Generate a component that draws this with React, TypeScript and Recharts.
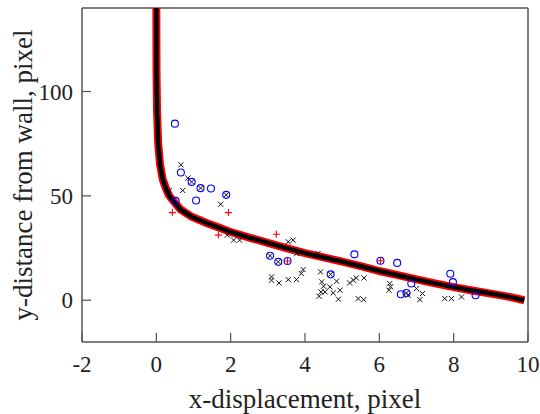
import { ComposedChart, Line, Scatter, XAxis, YAxis, ReferenceLine } from "recharts";

// fitted profile
const curveX = [0, 0.005, 0.02, 0.05, 0.1, 0.17, 0.25, 0.33, 0.46, 0.65, 0.95, 1.35, 1.7, 2, 2.5, 3, 3.5, 4, 4.5, 5, 5.5, 6, 6.5, 7, 7.5, 8, 8.5, 9, 9.5, 9.9];
const curveY = [140, 110, 90, 75, 65, 58, 54, 50.5, 47.5, 43.5, 40, 37, 34.7, 32.7, 30, 27.5, 25, 22.6, 20.5, 18.5, 16.3, 14, 12, 10, 8.1, 6.3, 4.7, 3.2, 1.6, 0];

// blue circles
const circleX = [0.5, 0.66, 0.95, 1.19, 1.47, 1.88, 0.52, 1.07, 3.06, 3.28, 3.53, 4.69, 5.33, 6.03, 6.48, 6.86, 6.58, 6.73, 7.91, 7.98, 8.59];
const circleY = [84.6, 61.2, 56.7, 53.7, 53.5, 50.5, 47.6, 47.8, 21.3, 18.4, 18.8, 12.4, 22, 18.9, 17.9, 8, 2.9, 3.5, 12.7, 8.7, 2.4];

// red pluses
const plusX = [0.43, 1.94, 1.67, 3.23, 3.53, 6.03];
const plusY = [42, 42, 31.2, 31.6, 18.8, 18.9];

// black crosses
const crossX = [0.66, 0.85, 0.35, 0.71, 0.95, 1.19, 1.88, 1.73, 1.91, 2.08, 2.24, 3.55, 3.68, 3.77, 4.35, 3.06, 3.28,
  3.1, 3.1, 3.3, 3.55, 3.77, 3.9, 3.95, 4.42, 4.69, 4.45, 4.5, 4.85, 4.67, 4.43, 4.54, 4.76, 4.94, 4.38, 4.9,
  5.2, 5.3, 5.38, 5.59, 5.43, 5.58, 6.28, 6.26, 6.3, 6.77, 7.0, 7.16, 7.09, 6.73, 7.76, 7.94, 8.21];
const crossY = [64.9, 58.5, 52.6, 52.6, 56.7, 53.7, 50.5, 46, 31.2, 28.8, 28.8, 28, 28.8, 22.4, 22.4, 21.3, 18.4,
  11.2, 9.6, 8.3, 9.9, 9.9, 12.8, 14.7, 13.6, 12.4, 8.8, 6.7, 9.1, 6.4, 4, 4, 3.5, 4.8, 1.9, 0.5,
  8.3, 9.6, 10.7, 10.7, 0.8, 0.3, 8, 4.8, 6.5, 2.4, 5.6, 3.2, 0.3, 3.5, 0.8, 0.8, 1.6];

const xTicks = [-2, 0, 2, 4, 6, 8, 10];
const yTicks = [0, 50, 100];

const zip = (xs: number[], ys: number[]) => xs.map((x, i) => ({ x, y: ys[i] }));
const curve = zip(curveX, curveY);
const circles = zip(circleX, circleY);
const pluses = zip(plusX, plusY);
const crosses = zip(crossX, crossY);

const FONT = "'Liberation Serif', 'Times New Roman', serif";
const AXIS = "#555";

const XTick = ({ x, y, payload }: any) => (
  <g>
    <line x1={x} y1={y} x2={x} y2={y - 9} stroke={AXIS} strokeWidth={1.2} />
    <text x={x} y={y + 30} textAnchor="middle" fontSize={23} fontFamily={FONT} fill="#222">
      {payload.value}
    </text>
  </g>
);

const YTick = ({ x, y, payload }: any) => (
  <g>
    <line x1={x} y1={y} x2={x + 9} y2={y} stroke={AXIS} strokeWidth={1.2} />
    <text x={x - 9} y={y + 8} textAnchor="end" fontSize={23} fontFamily={FONT} fill="#222">
      {payload.value}
    </text>
  </g>
);

const Circle = ({ cx, cy }: any) => <circle cx={cx} cy={cy} r={3.5} fill="none" stroke="#0000ff" strokeWidth={1.1} />;
const Cross = ({ cx, cy }: any) => (
  <path d={`M${cx - 2.6},${cy - 2.6}L${cx + 2.6},${cy + 2.6}M${cx - 2.6},${cy + 2.6}L${cx + 2.6},${cy - 2.6}`} stroke="#111" strokeWidth={1} />
);
const Plus = ({ cx, cy }: any) => (
  <path d={`M${cx - 3.5},${cy}L${cx + 3.5},${cy}M${cx},${cy - 3.5}L${cx},${cy + 3.5}`} stroke="#ff0000" strokeWidth={1.1} />
);

const App = () => {
  return (
    <div style={{ position: "absolute", left: 0, top: 0, background: "#fff" }}>
      <ComposedChart width={540} height={414} margin={{ top: 8, right: 12, left: 0, bottom: 0 }}>
        <XAxis
          dataKey="x"
          type="number"
          domain={[-2, 10]}
          ticks={xTicks}
          tick={XTick}
          tickSize={0}
          tickMargin={0}
          height={72}
          stroke={AXIS}
          strokeWidth={1.5}
          allowDuplicatedCategory={false}
          label={({ viewBox }: any) => (
            <text x={viewBox.x + viewBox.width / 2} y={viewBox.y + 66} textAnchor="middle" fontSize={27} fontFamily={FONT} fill="#222">
              x-displacement, pixel
            </text>
          )}
        />
        <YAxis
          dataKey="y"
          type="number"
          domain={[-20, 140]}
          ticks={yTicks}
          tick={YTick}
          tickSize={0}
          tickMargin={0}
          width={82}
          stroke={AXIS}
          strokeWidth={1.5}
          label={({ viewBox }: any) => (
            <text
              x={32}
              y={viewBox.y + viewBox.height / 2}
              transform={`rotate(-90, 32, ${viewBox.y + viewBox.height / 2})`}
              textAnchor="middle"
              fontSize={27}
              fontFamily={FONT}
              fill="#222"
            >
              y-distance from wall, pixel
            </text>
          )}
        />
        <ReferenceLine x={10} stroke={AXIS} strokeWidth={1.5} />
        <ReferenceLine y={140} stroke={AXIS} strokeWidth={1.5} />
        <Line data={curve} dataKey="y" type="linear" stroke="#ff0000" strokeWidth={8} dot={false} isAnimationActive={false} />
        <Line data={curve} dataKey="y" type="linear" stroke="#000" strokeWidth={4.5} dot={false} isAnimationActive={false} />
        <Scatter data={crosses} dataKey="y" shape={Cross} isAnimationActive={false} />
        <Scatter data={circles} dataKey="y" shape={Circle} isAnimationActive={false} />
        <Scatter data={pluses} dataKey="y" shape={Plus} isAnimationActive={false} />
      </ComposedChart>
    </div>
  );
};

export default App;
